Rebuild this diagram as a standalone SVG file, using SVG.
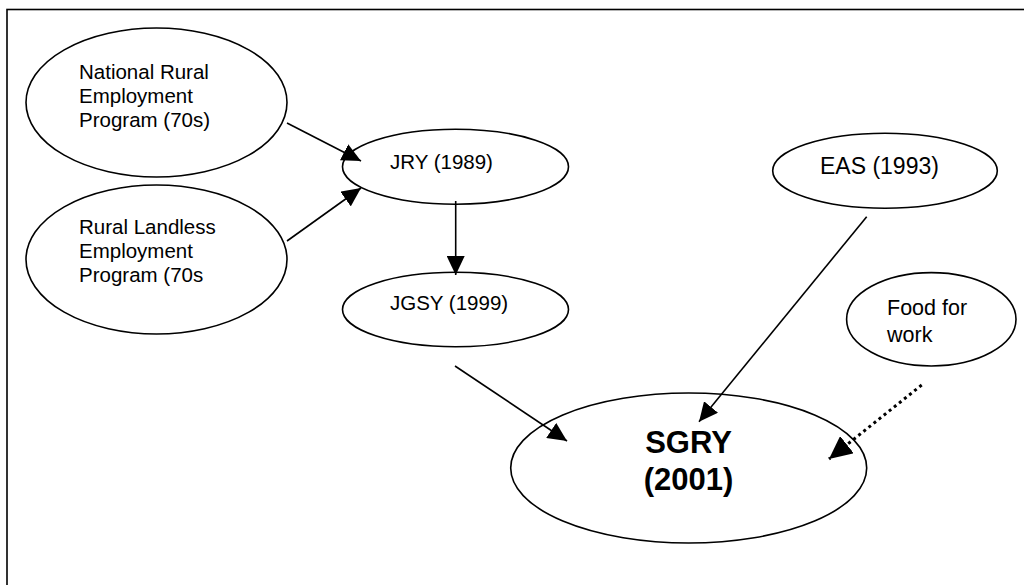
<svg xmlns="http://www.w3.org/2000/svg" width="1024" height="585" viewBox="0 0 1024 585">
<style>
.node{fill:#fff;stroke:#000;stroke-width:1.6}
.t{font-family:"Liberation Sans",Arial,sans-serif;font-size:20.5px;fill:#000}
.big{font-family:"Liberation Sans",Arial,sans-serif;font-size:31px;font-weight:bold;fill:#000;text-anchor:middle}
.c{stroke:#000;stroke-width:1.6;fill:none}
.dot{stroke:#000;stroke-width:3;fill:none;stroke-dasharray:3 3.5}
</style>
<defs>
<marker id="ah" markerUnits="userSpaceOnUse" markerWidth="19" markerHeight="18" refX="19" refY="9" orient="auto">
<path d="M0,0 L19,9 L0,18 z" fill="#000"/>
</marker>
<marker id="ahb" markerUnits="userSpaceOnUse" markerWidth="23" markerHeight="22" refX="23" refY="11" orient="auto">
<path d="M0,0 L23,11 L0,22 z" fill="#000"/>
</marker>
</defs>
<rect x="0" y="0" width="1024" height="585" fill="#fff"/>
<rect x="7" y="9.5" width="1040" height="600" fill="none" stroke="#000" stroke-width="1.6"/>
<g id="nrep">
<ellipse class="node" cx="156.5" cy="102.5" rx="130.5" ry="74.5"/>
<text class="t" x="79" y="78.5">National Rural</text>
<text class="t" x="79" y="102.5">Employment</text>
<text class="t" x="79" y="126.5">Program (70s)</text>
</g>
<g id="rlep">
<ellipse class="node" cx="156.5" cy="259.5" rx="130.5" ry="74.5"/>
<text class="t" x="79" y="234">Rural Landless</text>
<text class="t" x="79" y="258">Employment</text>
<text class="t" x="79" y="282">Program (70s</text>
</g>
<g id="jry">
<ellipse class="node" cx="455.5" cy="166.7" rx="113" ry="37.5"/>
<text class="t" x="390" y="168.5">JRY (1989)</text>
</g>
<g id="jgsy">
<ellipse class="node" cx="455.5" cy="309.5" rx="113" ry="37.2"/>
<text class="t" x="390" y="309.5">JGSY (1999)</text>
</g>
<g id="eas">
<ellipse class="node" cx="885" cy="170.8" rx="112.3" ry="37.5"/>
<text class="t" x="820" y="174" style="font-size:23px">EAS (1993)</text>
</g>
<g id="food">
<ellipse class="node" cx="931.3" cy="319.3" rx="84.7" ry="46.7"/>
<text class="t" x="887" y="315" style="font-size:21.5px">Food for</text>
<text class="t" x="887" y="341.5" style="font-size:21.5px">work</text>
</g>
<g id="sgry">
<ellipse class="node" cx="688.7" cy="468" rx="178" ry="75"/>
<text class="big" x="688.5" y="453">SGRY</text>
<text class="big" x="688.5" y="490">(2001)</text>
</g>
<g id="connectors">
<line class="c" x1="287" y1="123" x2="361" y2="161" marker-end="url(#ah)"/>
<line class="c" x1="287" y1="241" x2="361" y2="188" marker-end="url(#ah)"/>
<line class="c" x1="455.7" y1="201" x2="455.7" y2="275" marker-end="url(#ah)"/>
<line class="c" x1="455" y1="366" x2="567" y2="441" marker-end="url(#ah)"/>
<line class="c" x1="866.7" y1="216.7" x2="699" y2="421.7" marker-end="url(#ah)"/>
<line class="dot" x1="921.7" y1="385" x2="829" y2="459" marker-end="url(#ahb)"/>
</g>
</svg>
